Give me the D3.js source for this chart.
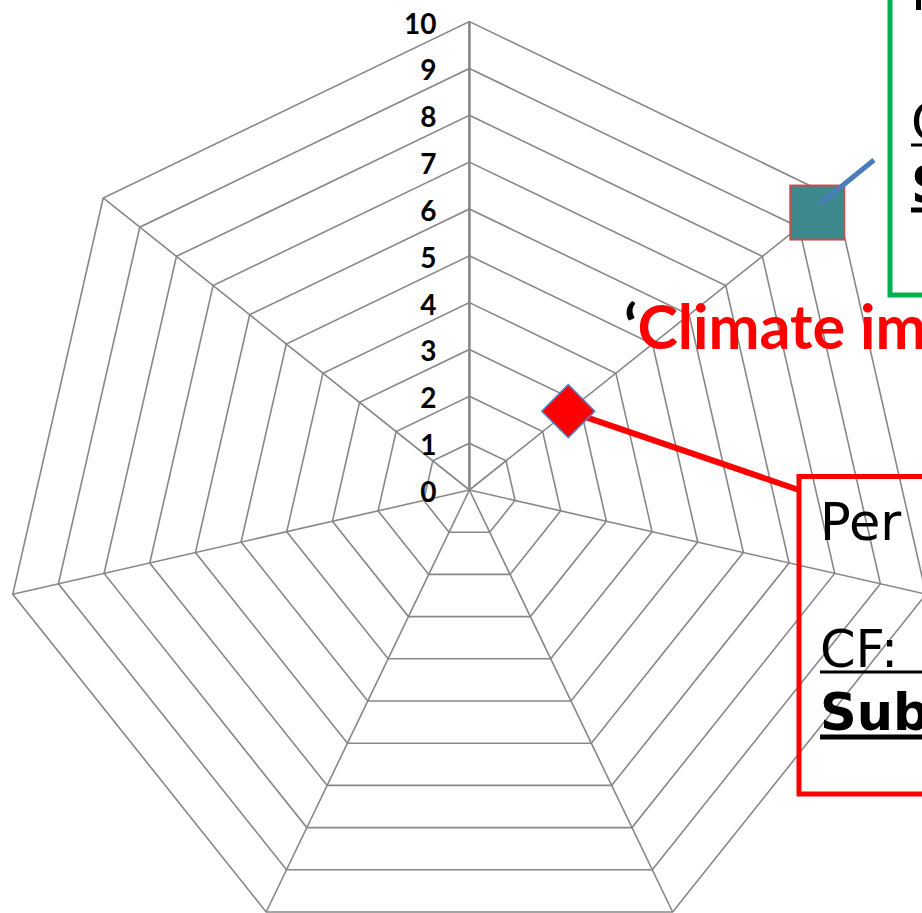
<!DOCTYPE html>
<html>
<head>
<meta charset="utf-8">
<script src="https://cdn.jsdelivr.net/npm/d3@7"></script>
<style>
  html, body { margin: 0; padding: 0; background: #fff; overflow: hidden; }
  svg { display: block; }
</style>
</head>
<body>
<svg id="chart" width="922" height="913"></svg>
<script>
// Radar grid: seven spokes, scale 0–10
const spokeIndex = [0, 1, 2, 3, 4, 5, 6];
const tickValues = [0, 1, 2, 3, 4, 5, 6, 7, 8, 9, 10];

// Plotted series (spoke index, value)
const squareSeries = [{ spoke: 1, value: 9.5 }];
const diamondSeries = [{ spoke: 1, value: 2.7 }];

// Callout texts
const calloutLines = ["Per", "CF:", "Sub"];
const headline = ["\u2018", "Climate impact"];

const W = 922, H = 913;
const cx = 469.4, cy = 490, R = 468.4;
const grid = "#878787";

const svg = d3.select("#chart");

const rScale = d3.scaleLinear().domain([0, 10]).range([0, R]);
const aScale = d3.scaleLinear().domain([0, spokeIndex.length]).range([0, 2 * Math.PI]);

const px = (i, v) => cx + rScale(v) * Math.sin(aScale(i));
const py = (i, v) => cy - rScale(v) * Math.cos(aScale(i));

const g = svg.append("g");

// concentric heptagon rings
const ringLine = d3.line()
  .x(d => d[0]).y(d => d[1])
  .curve(d3.curveLinearClosed);

g.selectAll("path.ring")
  .data(tickValues.filter(t => t > 0))
  .join("path")
  .attr("class", "ring")
  .attr("d", t => ringLine(spokeIndex.map(i => [px(i, t), py(i, t)])))
  .attr("fill", "none")
  .attr("stroke", grid)
  .attr("stroke-width", 1.6);

// spokes
g.selectAll("line.spoke")
  .data(spokeIndex)
  .join("line")
  .attr("class", "spoke")
  .attr("x1", cx).attr("y1", cy)
  .attr("x2", i => px(i, 10)).attr("y2", i => py(i, 10))
  .attr("stroke", grid)
  .attr("stroke-width", i => i === 0 ? 2.6 : 1.6);

// value labels along the first spoke
g.selectAll("text.tick")
  .data(tickValues)
  .join("text")
  .attr("class", "tick")
  .attr("x", cx - 33)
  .attr("y", t => py(0, t) + 1)
  .attr("text-anchor", "end")
  .attr("dominant-baseline", "central")
  .attr("font-family", "Lato, 'Open Sans', sans-serif")
  .attr("font-weight", 700)
  .attr("font-size", 28)
  .attr("fill", "#000")
  .text(t => t);

// callout boxes
const boxFont = "'DejaVu Sans', Verdana, sans-serif";
function callout(x, y, w, h, color, textX, baselines) {
  const b = svg.append("g");
  b.append("rect")
    .attr("x", x).attr("y", y).attr("width", w).attr("height", h)
    .attr("fill", "none").attr("stroke", color).attr("stroke-width", 5);
  const weights = [400, 400, 700];
  const ulOffset = [null, 5, 7];
  const ulWidth = [0, 3.2, 5];
  calloutLines.forEach((s, k) => {
    b.append("text")
      .attr("x", textX).attr("y", baselines[k])
      .attr("font-family", boxFont)
      .attr("font-size", 51)
      .attr("font-weight", weights[k])
      .attr("fill", "#000")
      .text(s);
    if (ulOffset[k] !== null) {
      b.append("line")
        .attr("x1", textX).attr("x2", x + w - 20)
        .attr("y1", baselines[k] + ulOffset[k]).attr("y2", baselines[k] + ulOffset[k])
        .attr("stroke", "#000").attr("stroke-width", ulWidth[k]);
    }
  });
}

callout(890, -90, 420, 385, "#00b050", 911, [9.5, 140, 203]);

// headline
const hl = svg.append("text")
  .attr("x", 624).attr("y", 349)
  .attr("font-family", "Lato, 'Open Sans', sans-serif")
  .attr("font-weight", 700)
  .attr("font-size", 61);
hl.append("tspan").attr("fill", "#000").text(headline[0]);
hl.append("tspan").attr("fill", "#ff0000").text(headline[1]);

callout(799, 476.5, 420, 317.5, "#ff0000", 820, [539.5, 667, 730]);

// diamond marker + its leader to the red box
diamondSeries.forEach(d => {
  const x = px(d.spoke, d.value), y = py(d.spoke, d.value);
  svg.append("line")
    .attr("x1", x).attr("y1", y).attr("x2", 799).attr("y2", 490)
    .attr("stroke", "#ff0000").attr("stroke-width", 6);
  svg.append("path")
    .attr("d", d3.symbol(d3.symbolSquare, 2 * 26.5 * 26.5)())
    .attr("transform", `translate(${x},${y}) rotate(45)`)
    .attr("fill", "#ff0000")
    .attr("stroke", "#4f81bd")
    .attr("stroke-width", 1.5);
});

// square marker + its leader toward the green box
squareSeries.forEach(d => {
  const x = px(d.spoke, d.value), y = py(d.spoke, d.value);
  svg.append("rect")
    .attr("x", x - 27).attr("y", y - 27)
    .attr("width", 54).attr("height", 54)
    .attr("fill", "#3d898d")
    .attr("stroke", "#c0504d")
    .attr("stroke-width", 2);
  svg.append("line")
    .attr("x1", x + 3).attr("y1", y - 9).attr("x2", 874).attr("y2", 160)
    .attr("stroke", "#4a7ebb").attr("stroke-width", 5);
});
</script>
</body>
</html>
